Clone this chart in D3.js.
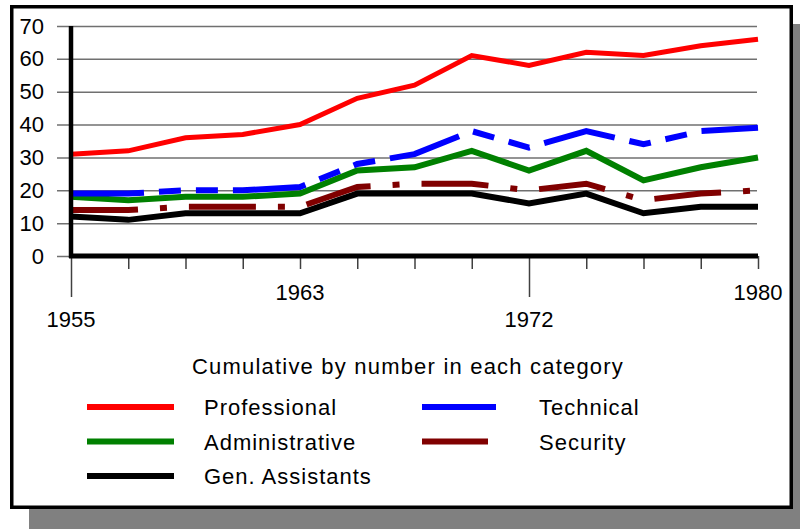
<!DOCTYPE html>
<html lang="en">
<head>
    <meta charset="UTF-8">
    <title>Cumulative by number in each category</title>
    <style>
        html,body{
            margin:0;
            height: 100%;
            overflow: hidden;
            background: #fff;
        }
        text{
            font-family: Arial, "Liberation Sans", sans-serif;
        }
    </style>
</head>
<body>
    <svg id="svg"></svg>
    <script src="https://d3js.org/d3.v7.min.js"></script>
    <script>
        // 13 evenly spaced points along the x axis, only four are labelled
        const points = [0, 1, 2, 3, 4, 5, 6, 7, 8, 9, 10, 11, 12];
        const yearLabels = [
            { point: 0, label: '1955', row: 1 },
            { point: 4, label: '1963', row: 0 },
            { point: 8, label: '1972', row: 1 },
            { point: 12, label: '1980', row: 0 }
        ];
        const yTicks = [0, 10, 20, 30, 40, 50, 60, 70];

        const professional   = [31, 32, 36, 37, 40, 48, 52, 61, 58, 62, 61, 64, 66];
        const technical      = [19, 19, 20, 20, 21, 28, 31, 38, 33, 38, 34, 38, 39];
        const administrative = [18, 17, 18, 18, 19, 26, 27, 32, 26, 32, 23, 27, 30];
        const security       = [14, 14, 15, 15, 15, 21, 22, 22, 20, 22, 17, 19, 20];
        const genAssistants  = [12, 11, 13, 13, 13, 19, 19, 19, 16, 19, 13, 15, 15];

        const series = [
            { name: 'Gen. Assistants', values: genAssistants, color: '#000000', width: 6, dash: null },
            { name: 'Security', values: security, color: '#800000', width: 6, dash: '67,22,7,22' },
            { name: 'Administrative', values: administrative, color: '#008000', width: 6, dash: null },
            { name: 'Technical', values: technical, color: '#0000ff', width: 6, dash: '73,15,22,15,22,15' },
            { name: 'Professional', values: professional, color: '#ff0000', width: 5, dash: null }
        ];
        const legendOrder = ['Professional', 'Technical', 'Administrative', 'Security', 'Gen. Assistants'];

        const width = 800, height = 529;
        const svg = d3.select('#svg').attr('width', width).attr('height', height);

        // drop shadow and frame
        svg.append('rect').attr('x', 29).attr('y', 24).attr('width', 790).attr('height', 510)
            .attr('fill', '#808080');
        svg.append('rect').attr('x', 11.75).attr('y', 6.75).attr('width', 779.5).attr('height', 500.5)
            .attr('fill', '#fff').attr('stroke', '#000').attr('stroke-width', 3.5);

        const xScale = d3.scalePoint().domain(points).range([71, 758]);
        const yScale = d3.scaleLinear().domain([0, 70]).range([256, 26]);

        // grid + y axis labels
        const yAxis = d3.axisLeft(yScale).tickValues(yTicks)
            .tickSize(-(758 - 57)).tickSizeOuter(0).tickPadding(8);
        const gy = svg.append('g').attr('transform', 'translate(757,0)').call(yAxis);
        gy.select('.domain').remove();
        gy.selectAll('.tick line').attr('x1', -700).attr('x2', 0)
            .attr('stroke', '#707070').attr('stroke-width', 1.5);
        gy.selectAll('.tick text').attr('x', -713).attr('font-size', 22).attr('fill', '#000')
            .attr('font-family', 'Arial, "Liberation Sans", sans-serif');

        // x axis ticks
        const xAxis = d3.axisBottom(xScale).tickValues(points).tickSize(13)
            .tickFormat('').tickSizeOuter(0);
        const gx = svg.append('g').attr('transform', 'translate(0,256)').call(xAxis);
        gx.select('.domain').remove();
        gx.selectAll('.tick line').attr('stroke', '#404040').attr('stroke-width', 1.5)
            .attr('y2', d => (d === 0 || d === 8) ? 41 : 13);

        svg.selectAll('.year')
            .data(yearLabels)
            .join('text')
            .attr('class', 'year')
            .attr('x', d => xScale(d.point))
            .attr('y', d => d.row ? 327 : 300)
            .attr('text-anchor', 'middle')
            .attr('font-size', 22)
            .text(d => d.label);

        // series lines
        const line = d3.line()
            .x((d, i) => xScale(points[i]))
            .y(d => yScale(d));

        svg.append('g').selectAll('path')
            .data(series)
            .join('path')
            .attr('d', d => line(d.values))
            .attr('fill', 'none')
            .attr('stroke', d => d.color)
            .attr('stroke-width', d => d.width)
            .attr('stroke-dasharray', d => d.dash)
            .attr('stroke-linejoin', 'miter')
            .attr('stroke-linecap', 'butt');

        // axis lines on top
        svg.append('line').attr('x1', 71).attr('x2', 71).attr('y1', 26).attr('y2', 258)
            .attr('stroke', '#000').attr('stroke-width', 4.5);
        svg.append('line').attr('x1', 69).attr('x2', 758).attr('y1', 256).attr('y2', 256)
            .attr('stroke', '#000').attr('stroke-width', 5);

        // legend
        svg.append('text')
            .attr('x', 408).attr('y', 374)
            .attr('text-anchor', 'middle')
            .attr('font-size', 22)
            .attr('letter-spacing', 1.2)
            .text('Cumulative by number in each category');

        const legendPos = [
            { x1: 87, x2: 174, tx: 204, y: 407 },
            { x1: 422, x2: 496, tx: 539, y: 407 },
            { x1: 87, x2: 174, tx: 204, y: 441.5 },
            { x1: 422, x2: 488, tx: 539, y: 441.5 },
            { x1: 87, x2: 174, tx: 204, y: 476 }
        ];
        const legend = svg.append('g');
        legendOrder.forEach((name, i) => {
            const s = series.find(d => d.name === name);
            const p = legendPos[i];
            legend.append('line')
                .attr('x1', p.x1).attr('x2', p.x2).attr('y1', p.y).attr('y2', p.y)
                .attr('stroke', s.color).attr('stroke-width', 6);
            legend.append('text')
                .attr('x', p.tx).attr('y', p.y + 8)
                .attr('font-size', 22)
                .attr('letter-spacing', 1)
                .text(name);
        });
    </script>
</body>
</html>
